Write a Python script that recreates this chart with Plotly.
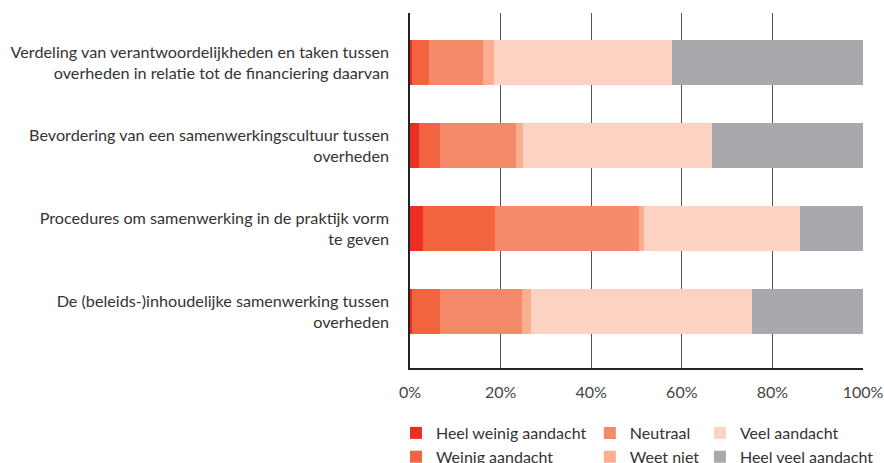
import plotly.graph_objects as go

categories = [
    "Verdeling van verantwoordelijkheden en taken tussen<br>overheden in relatie tot de financiering daarvan",
    "Bevordering van een samenwerkingscultuur tussen<br>overheden",
    "Procedures om samenwerking in de praktijk vorm<br>te geven",
    "De (beleids-)inhoudelijke samenwerking tussen<br>overheden",
]

series_names = [
    "Heel weinig aandacht",
    "Weinig aandacht",
    "Neutraal",
    "Weet niet",
    "Veel aandacht",
    "Heel veel aandacht",
]

heel_weinig = [0.5, 2.0, 2.9, 0.4]
weinig = [3.8, 4.6, 15.9, 6.2]
neutraal = [11.8, 16.7, 31.7, 18.1]
weet_niet = [2.4, 1.6, 1.2, 2.0]
veel = [39.3, 41.7, 34.4, 48.9]
heel_veel = [42.2, 33.4, 13.9, 24.4]

values = [heel_weinig, weinig, neutraal, weet_niet, veel, heel_veel]
colors = ["#EE2E24", "#F26440", "#F58A6A", "#F9AF90", "#FCD3C2", "#A8A9AD"]
legend_ids = ["legend", "legend", "legend2", "legend2", "legend3", "legend3"]

tick_vals = [0, 20, 40, 60, 80, 100]
tick_text = ["0%", "20%", "40%", "60%", "80%", "100%"]

FONT = "Lato"
TEXT = "#333333"

fig = go.Figure()
for name, vals, col, lg in zip(series_names, values, colors, legend_ids):
    fig.add_trace(go.Bar(
        y=categories,
        x=vals,
        name=name,
        orientation="h",
        marker=dict(color=col, line=dict(width=0)),
        legend=lg,
        hovertemplate="%{x:.1f}%<extra>" + name + "</extra>",
    ))

legend_common = dict(
    orientation="v",
    traceorder="normal",
    font=dict(family=FONT, size=16, color=TEXT),
    bgcolor="rgba(0,0,0,0)",
    borderwidth=0,
    xref="paper",
    yref="paper",
    xanchor="left",
    yanchor="top",
    itemclick=False,
    itemdoubleclick=False,
    tracegroupgap=0,
)
legend_top = -0.1352

fig.update_layout(
    width=884,
    height=463,
    barmode="stack",
    bargap=0.458,
    plot_bgcolor="white",
    paper_bgcolor="white",
    margin=dict(l=410, r=21, t=13, b=95, autoexpand=False),
    font=dict(family=FONT, size=16, color=TEXT),
    legend=dict(legend_common, x=-0.031, y=legend_top),
    legend2=dict(legend_common, x=0.397, y=legend_top),
    legend3=dict(legend_common, x=0.640, y=legend_top),
    xaxis=dict(
        range=[0, 100],
        tickvals=tick_vals,
        ticktext=tick_text,
        showgrid=True,
        gridcolor="#555555",
        gridwidth=1,
        zeroline=False,
        showline=True,
        linecolor="#222222",
        linewidth=1.5,
        ticks="",
        ticklabelstandoff=9,
        tickfont=dict(family=FONT, size=16, color="#444444"),
        fixedrange=True,
    ),
    yaxis=dict(
        type="category",
        categoryorder="array",
        categoryarray=categories,
        range=[3.68, -0.6],
        showgrid=False,
        showline=True,
        linecolor="#222222",
        linewidth=1.5,
        ticks="",
        ticklabelstandoff=16,
        tickfont=dict(family=FONT, size=16.2, color=TEXT),
        fixedrange=True,
    ),
)

fig.write_html("out.html")
